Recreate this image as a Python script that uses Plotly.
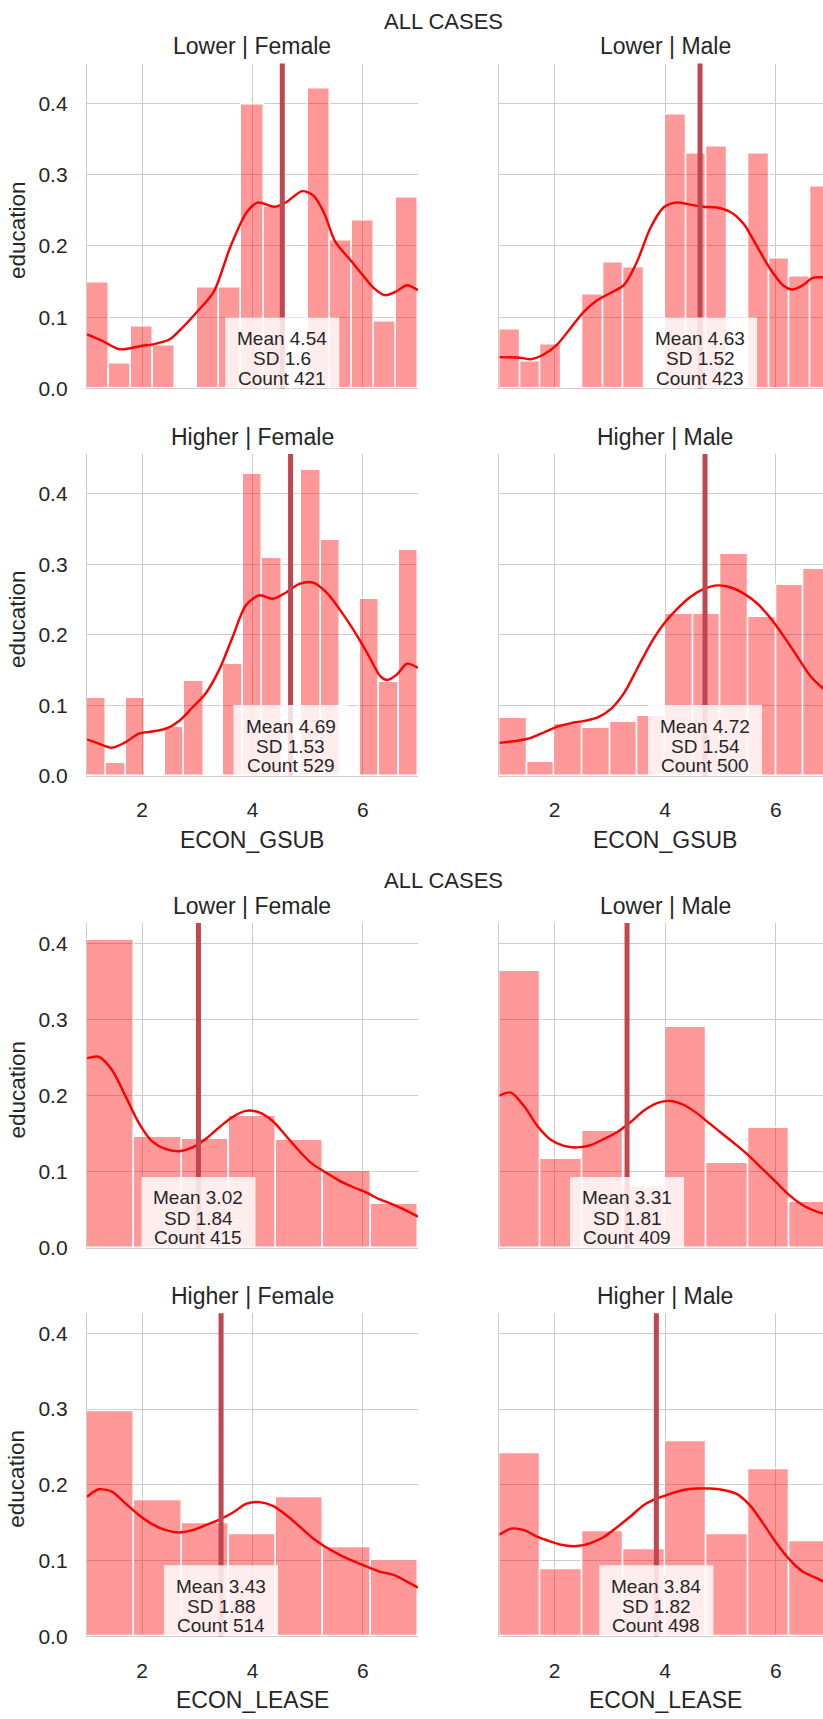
import numpy as np
import plotly.graph_objects as go

# ---------------- data ----------------
X_MIN, X_MAX = 1, 7
GSUB_YMAX = 0.456
LEASE_YMAX = 0.4265

# ECON_GSUB histograms (density per bin, bins span 1..7)
gsub_lower_female_hist = [0.149, 0.035, 0.087, 0.060, 0.0, 0.141, 0.141, 0.399,
                          0.255, 0.0, 0.421, 0.208, 0.236, 0.094, 0.268]
gsub_lower_male_hist = [0.083, 0.038, 0.062, 0.0, 0.132, 0.177, 0.169, 0.0,
                        0.384, 0.329, 0.340, 0.0, 0.329, 0.183, 0.157, 0.284]
gsub_higher_female_hist = [0.111, 0.018, 0.111, 0.0, 0.069, 0.135, 0.0, 0.158, 0.427,
                           0.309, 0.0, 0.433, 0.334, 0.0, 0.251, 0.133, 0.320]
gsub_higher_male_hist = [0.082, 0.020, 0.074, 0.068, 0.077, 0.085,
                         0.230, 0.230, 0.315, 0.225, 0.270, 0.293]

# ECON_LEASE histograms
lease_lower_female_hist = [0.404, 0.146, 0.143, 0.173, 0.142, 0.101, 0.058]
lease_lower_male_hist = [0.363, 0.117, 0.154, 0.080, 0.290, 0.112, 0.157, 0.060]
lease_higher_female_hist = [0.297, 0.179, 0.149, 0.134, 0.184, 0.118, 0.100]
lease_higher_male_hist = [0.242, 0.089, 0.139, 0.115, 0.257, 0.134, 0.220, 0.125]

# KDE curves (x, density)
gsub_lower_female_kde_x = [1.0, 1.25, 1.6, 2.0, 2.2, 2.5, 2.75, 3.0, 3.3, 3.6, 3.9, 4.1, 4.4,
                           4.6, 4.9, 5.1, 5.3, 5.5, 5.8, 6.0, 6.2, 6.4, 6.6, 6.8, 7.0]
gsub_lower_female_kde_y = [0.076, 0.068, 0.055, 0.060, 0.062, 0.069, 0.087, 0.108, 0.136, 0.199,
                           0.248, 0.261, 0.255, 0.261, 0.277, 0.271, 0.246, 0.206, 0.178,
                           0.159, 0.141, 0.131, 0.136, 0.145, 0.138]
gsub_lower_male_kde_x = [1.0, 1.4, 1.57, 1.81, 2.05, 2.29, 2.53, 2.77, 3.01, 3.25, 3.49, 3.73,
                         3.97, 4.21, 4.45, 4.69, 4.93, 5.17, 5.41, 5.65, 5.89, 6.13, 6.31,
                         6.49, 6.66, 6.86]
gsub_lower_male_kde_y = [0.044, 0.043, 0.041, 0.048, 0.062, 0.085, 0.108, 0.124, 0.134, 0.145,
                         0.178, 0.225, 0.254, 0.261, 0.258, 0.255, 0.254, 0.248, 0.232,
                         0.201, 0.169, 0.145, 0.139, 0.145, 0.155, 0.156]
gsub_higher_female_kde_x = [1.0, 1.21, 1.45, 1.7, 1.94, 2.18, 2.43, 2.67, 2.91, 3.16, 3.4, 3.64,
                            3.88, 4.13, 4.37, 4.61, 4.85, 5.1, 5.34, 5.59, 5.83, 6.08, 6.32,
                            6.44, 6.62, 6.8, 7.0]
gsub_higher_female_kde_y = [0.052, 0.046, 0.040, 0.048, 0.060, 0.063, 0.067, 0.078, 0.097,
                            0.118, 0.151, 0.197, 0.242, 0.256, 0.251, 0.260, 0.272, 0.274,
                            0.260, 0.235, 0.207, 0.174, 0.141, 0.136, 0.144, 0.159, 0.153]
gsub_higher_male_kde_x = [1.0, 1.33, 1.57, 1.81, 2.05, 2.3, 2.54, 2.78, 3.02, 3.26, 3.5, 3.74,
                          3.98, 4.22, 4.46, 4.7, 4.95, 5.19, 5.43, 5.67, 5.91, 6.15, 6.39,
                          6.63, 6.87]
gsub_higher_male_kde_y = [0.047, 0.050, 0.054, 0.062, 0.070, 0.075, 0.078, 0.083, 0.095, 0.118,
                          0.153, 0.188, 0.216, 0.237, 0.254, 0.265, 0.270, 0.267, 0.258,
                          0.244, 0.223, 0.197, 0.169, 0.141, 0.123]

lease_lower_female_kde_x = [1.0, 1.21, 1.45, 1.7, 1.94, 2.18, 2.42, 2.67, 2.91, 3.15, 3.39, 3.64,
                            3.88, 4.12, 4.36, 4.61, 4.85, 5.09, 5.33, 5.58, 5.82, 6.06, 6.3,
                            6.55, 6.79, 7.0]
lease_lower_female_kde_y = [0.249, 0.251, 0.234, 0.199, 0.164, 0.140, 0.130, 0.127, 0.132,
                            0.143, 0.158, 0.172, 0.180, 0.178, 0.167, 0.147, 0.127, 0.110,
                            0.099, 0.088, 0.080, 0.073, 0.064, 0.057, 0.049, 0.041]
lease_lower_male_kde_x = [1.0, 1.21, 1.45, 1.69, 1.93, 2.17, 2.41, 2.65, 2.89, 3.13, 3.37, 3.61,
                          3.85, 4.09, 4.33, 4.57, 4.81, 5.05, 5.29, 5.53, 5.77, 6.01, 6.25,
                          6.49, 6.73, 6.86]
lease_lower_male_kde_y = [0.200, 0.204, 0.186, 0.160, 0.142, 0.134, 0.132, 0.135, 0.143, 0.152,
                          0.165, 0.180, 0.190, 0.193, 0.188, 0.177, 0.163, 0.149, 0.135,
                          0.120, 0.103, 0.086, 0.069, 0.056, 0.048, 0.045]
lease_higher_female_kde_x = [1.0, 1.21, 1.45, 1.7, 1.94, 2.18, 2.43, 2.67, 2.91, 3.16, 3.4, 3.64,
                             3.89, 4.13, 4.37, 4.61, 4.85, 5.1, 5.34, 5.59, 5.83, 6.07, 6.32,
                             6.56, 6.8, 7.0]
lease_higher_female_kde_y = [0.184, 0.194, 0.191, 0.175, 0.160, 0.148, 0.140, 0.137, 0.140,
                             0.147, 0.154, 0.163, 0.175, 0.177, 0.172, 0.160, 0.145, 0.129,
                             0.117, 0.107, 0.099, 0.092, 0.085, 0.081, 0.072, 0.064]
lease_higher_male_kde_x = [1.0, 1.21, 1.45, 1.69, 1.93, 2.17, 2.41, 2.65, 2.89, 3.13, 3.37, 3.61,
                           3.85, 4.09, 4.33, 4.57, 4.81, 5.05, 5.29, 5.53, 5.77, 6.01, 6.25,
                           6.49, 6.73, 6.86]
lease_higher_male_kde_y = [0.134, 0.142, 0.140, 0.131, 0.125, 0.120, 0.119, 0.123, 0.131, 0.144,
                           0.158, 0.173, 0.182, 0.188, 0.193, 0.195, 0.195, 0.193, 0.188,
                           0.173, 0.149, 0.123, 0.101, 0.085, 0.077, 0.072]

panel_titles = ["Lower | Female", "Lower | Male", "Higher | Female", "Higher | Male"] * 2
means = [4.54, 4.63, 4.69, 4.72, 3.02, 3.31, 3.43, 3.84]
sds = [1.6, 1.52, 1.53, 1.54, 1.84, 1.81, 1.88, 1.82]
counts = [421, 423, 529, 500, 415, 409, 514, 498]
x_labels = ["ECON_GSUB", "ECON_LEASE"]
y_label = "education"
suptitle = "ALL CASES"
x_tickvals = [2, 4, 6]
y_tickvals = [0.0, 0.1, 0.2, 0.3, 0.4]

hists = [gsub_lower_female_hist, gsub_lower_male_hist, gsub_higher_female_hist,
         gsub_higher_male_hist, lease_lower_female_hist, lease_lower_male_hist,
         lease_higher_female_hist, lease_higher_male_hist]
kde_xs = [gsub_lower_female_kde_x, gsub_lower_male_kde_x, gsub_higher_female_kde_x,
          gsub_higher_male_kde_x, lease_lower_female_kde_x, lease_lower_male_kde_x,
          lease_higher_female_kde_x, lease_higher_male_kde_x]
kde_ys = [gsub_lower_female_kde_y, gsub_lower_male_kde_y, gsub_higher_female_kde_y,
          gsub_higher_male_kde_y, lease_lower_female_kde_y, lease_lower_male_kde_y,
          lease_higher_female_kde_y, lease_higher_male_kde_y]

# ---------------- layout geometry ----------------
W, H = 823, 1719
FONT = "Liberation Sans, Arial, sans-serif"
TXT = "#262626"
GRID = "#cccccc"
BAR = "rgba(255,0,0,0.4)"
MEANC = "#c0464f"

col_px = [(87, 418), (499.3, 823)]
row_px = [(64, 391), (457, 781), (929, 1256), (1321.7, 1646.7)]
right_xmax = X_MIN + (823 - 499.3) / 55.3


def py(v):
    return 1 - v / H


fig = go.Figure()
layout = dict(width=W, height=H, margin=dict(l=0, r=0, t=0, b=0),
              paper_bgcolor="white", plot_bgcolor="white", showlegend=False,
              font=dict(family=FONT, color=TXT), bargap=0)
shapes, annotations = [], []

for i in range(8):
    row = i // 2
    col = i % 2
    xa = "x" if i == 0 else f"x{i+1}"
    ya = "y" if i == 0 else f"y{i+1}"
    n = len(hists[i])
    edges = np.linspace(X_MIN, X_MAX, n + 1)
    centers = (edges[:-1] + edges[1:]) / 2
    width = (X_MAX - X_MIN) / n
    fig.add_trace(go.Bar(x=centers, y=hists[i], width=width, xaxis=xa, yaxis=ya,
                         marker=dict(color=BAR, line=dict(color="white", width=1.5)),
                         hoverinfo="skip"))
    fig.add_trace(go.Scatter(x=kde_xs[i], y=kde_ys[i], xaxis=xa, yaxis=ya, mode="lines",
                             line=dict(color="red", width=2.4, shape="spline", smoothing=0.8),
                             hoverinfo="skip"))
    ymax = GSUB_YMAX if i < 4 else LEASE_YMAX
    c0, c1 = col_px[col]
    r0, r1 = row_px[row]
    xdom = [c0 / W, c1 / W]
    ydom = [py(r1), py(r0)]
    bottom = row in (1, 3)
    layout["xaxis" if i == 0 else f"xaxis{i+1}"] = dict(
        domain=xdom, range=[X_MIN, X_MAX if col == 0 else right_xmax],
        tickvals=x_tickvals, showticklabels=bottom, ticks="",
        ticklabelstandoff=15,
        tickfont=dict(size=21, color=TXT, family=FONT),
        showgrid=True, gridcolor=GRID, gridwidth=1, zeroline=False,
        showline=True, linecolor=GRID, linewidth=1.3, anchor=ya, fixedrange=True)
    layout["yaxis" if i == 0 else f"yaxis{i+1}"] = dict(
        domain=ydom, range=[0, ymax], tickvals=y_tickvals, tickformat=".1f",
        showticklabels=(col == 0), ticks="", ticklabelstandoff=14,
        tickfont=dict(size=21, color=TXT, family=FONT),
        showgrid=True, gridcolor=GRID, gridwidth=1, zeroline=False,
        showline=True, linecolor=GRID, linewidth=1.3, anchor=xa, fixedrange=True)

    # mean line
    shapes.append(dict(type="line", xref=xa, yref=f"{ya} domain", x0=means[i], x1=means[i],
                       y0=0, y1=1, line=dict(color=MEANC, width=5), layer="above"))
    # stats box
    shapes.append(dict(type="rect", xref=xa, yref=ya, xsizemode="pixel", ysizemode="pixel",
                       xanchor=means[i], yanchor=0, x0=-57, x1=57, y0=0, y1=71,
                       fillcolor="rgba(255,255,255,0.82)", line=dict(width=0), layer="above"))
    for txt, sh in ((f"Mean {means[i]}", 50.0), (f"SD {sds[i]}", 29.6), (f"Count {counts[i]}", 10.4)):
        annotations.append(dict(text=txt, xref=xa, yref=ya, x=means[i], y=0, yshift=sh,
                                xanchor="center", yanchor="middle", showarrow=False,
                                font=dict(size=19, color=TXT, family=FONT)))
    # panel title
    tx = (c0 + c1) / 2 / W if col == 0 else (c0 + 831) / 2 / W
    annotations.append(dict(text=panel_titles[i], xref="paper", yref="paper",
                            x=tx, y=py(r0 - 17.5), xanchor="center", yanchor="middle",
                            showarrow=False, font=dict(size=23, color=TXT, family=FONT)))
    if col == 0:
        annotations.append(dict(text=y_label, xref="paper", yref="paper", x=17 / W,
                                y=py((r0 + r1) / 2 + 4), textangle=-90, xanchor="center",
                                yanchor="middle", showarrow=False,
                                font=dict(size=22.5, color=TXT, family=FONT)))
    if bottom:
        annotations.append(dict(text=x_labels[row // 2], xref="paper", yref="paper",
                                x=tx, y=py(r1 + 64), xanchor="center", yanchor="middle",
                                showarrow=False, font=dict(size=23, color=TXT, family=FONT)))

for yc in (21.5, 886):
    annotations.append(dict(text=suptitle, xref="paper", yref="paper", x=443 / W, y=py(yc),
                            xanchor="center", yanchor="middle", showarrow=False,
                            font=dict(size=22, color=TXT, family=FONT)))

layout["shapes"] = shapes
layout["annotations"] = annotations
fig.update_layout(**layout)
fig.write_html("out.html", config={"displayModeBar": False},
               post_script="document.body.style.margin='0';")
